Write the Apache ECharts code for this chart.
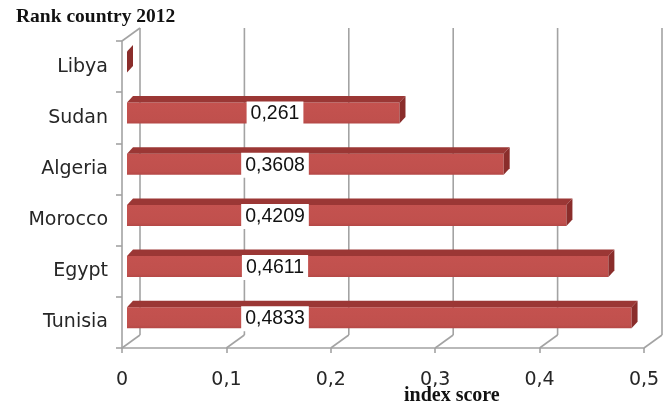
<!DOCTYPE html>
<html>
<head>
<meta charset="utf-8">
<script src="https://cdn.jsdelivr.net/npm/echarts@6/dist/echarts.min.js"></script>
<style>html,body{margin:0;padding:0;background:#fff}#c{width:670px;height:403px}</style>
</head>
<body>
<div id="c"></div>
<script>
const categories = ['Libya', 'Sudan', 'Algeria', 'Morocco', 'Egypt', 'Tunisia'];
const values = [0, 0.261, 0.3608, 0.4209, 0.4611, 0.4833];
const xTicks = [0, 0.1, 0.2, 0.3, 0.4, 0.5];
const titleText = 'Rank country 2012';
const axisTitle = 'index score';

const DX = 18, DY = -13;       // wall depth offset (px)
const BSX = 5, BSY = -4.7;     // bar front-face shift
const BH = 21, BDX = 6, BDY = -6.5;
const gridColor = '#a3a3a3';
const labelFont = '"DejaVu Sans", Verdana, sans-serif';

const chart = echarts.init(document.getElementById('c'), null, {renderer: 'canvas'});

function renderWall(params, api) {
  const cs = params.coordSys;
  const t = api.value(0);
  const p = api.coord([t, 0]);
  const x = p[0];
  const top = cs.y, bot = cs.y + cs.height;
  const children = [
    {type: 'line', shape: {x1: x + DX, y1: top + DY, x2: x + DX, y2: bot + DY},
     style: {stroke: gridColor, lineWidth: 1.6}},
    {type: 'line', shape: {x1: x, y1: bot, x2: x + DX, y2: bot + DY},
     style: {stroke: gridColor, lineWidth: 1.6}}
  ];
  if (params.dataIndex === 0) {
    children.push({type: 'line', shape: {x1: x, y1: top, x2: x + DX, y2: top + DY},
      style: {stroke: gridColor, lineWidth: 1.6}});
  }
  return {type: 'group', children: children};
}

function renderBar(params, api) {
  const v = api.value(0), cat = api.value(1);
  const p0 = api.coord([0, cat]);
  const p1 = api.coord([v, cat]);
  const x0 = p0[0] + BSX, x1 = p1[0] + BSX;
  const yc = p0[1] + BSY;
  const yt = yc - BH / 2, yb = yc + BH / 2;
  const children = [];
  if (x1 - x0 > 0.5) {
    children.push({type: 'rect', shape: {x: x0, y: yt, width: x1 - x0, height: BH},
      style: {fill: new echarts.graphic.LinearGradient(0, 0, 0, 1, [
        {offset: 0, color: '#c4524f'}, {offset: 0.85, color: '#c0504d'}, {offset: 1, color: '#b44846'}])}});
    children.push({type: 'polygon', shape: {points: [[x0, yt], [x1, yt], [x1 + BDX, yt + BDY], [x0 + BDX, yt + BDY]]},
      style: {fill: '#9b3735'}});
  }
  children.push({type: 'polygon', shape: {points: [[x1, yt], [x1 + BDX, yt + BDY], [x1 + BDX, yb + BDY], [x1, yb]]},
    style: {fill: '#8a2d2b'}});
  if (v > 0) {
    children.push({type: 'text', x: p0[0] + 153, y: yc + 1,
      style: {text: String(v).replace('.', ','), fill: '#111', font: '19.5px "Liberation Sans", Arial, sans-serif',
        align: 'center', verticalAlign: 'middle', backgroundColor: '#fff', padding: [3, 4, 2, 4]}});
  }
  return {type: 'group', children: children};
}

chart.setOption({
  animation: false,
  title: [
    {text: titleText, left: 11, top: 2,
     textStyle: {fontFamily: '"Liberation Serif", "Times New Roman", serif', fontWeight: 'bold', fontSize: 19.5, color: '#111'}},
    {text: axisTitle, left: 399, top: 381,
     textStyle: {fontFamily: '"Liberation Serif", "Times New Roman", serif', fontWeight: 'bold', fontSize: 20, color: '#111'}}
  ],
  grid: {left: 122, right: 26, top: 41, bottom: 55, containLabel: false},
  xAxis: {
    type: 'value', min: 0, max: 0.5, interval: 0.1,
    axisLine: {show: true, lineStyle: {color: gridColor, width: 1.6}},
    axisTick: {show: true, length: 5, lineStyle: {color: gridColor, width: 1.6}},
    splitLine: {show: false},
    axisLabel: {margin: 23, fontSize: 19, color: '#262626', fontFamily: labelFont,
      formatter: v => String(Math.round(v * 10) / 10).replace('.', ',')}
  },
  yAxis: {
    type: 'category', data: categories, inverse: true,
    axisLine: {show: true, lineStyle: {color: gridColor, width: 1.6}},
    axisTick: {show: true, length: 6, lineStyle: {color: gridColor, width: 1.6}},
    splitLine: {show: false},
    axisLabel: {margin: 14, fontSize: 19, color: '#262626', fontFamily: labelFont}
  },
  series: [
    {type: 'custom', renderItem: renderWall, clip: false, z: 1,
     data: xTicks.map(t => [t, 0]), encode: {x: 0, y: 1}, silent: true},
    {type: 'custom', renderItem: renderBar, clip: false, z: 3,
     data: values.map((v, i) => [v, i]), encode: {x: 0, y: 1}}
  ]
});
</script>
</body>
</html>
